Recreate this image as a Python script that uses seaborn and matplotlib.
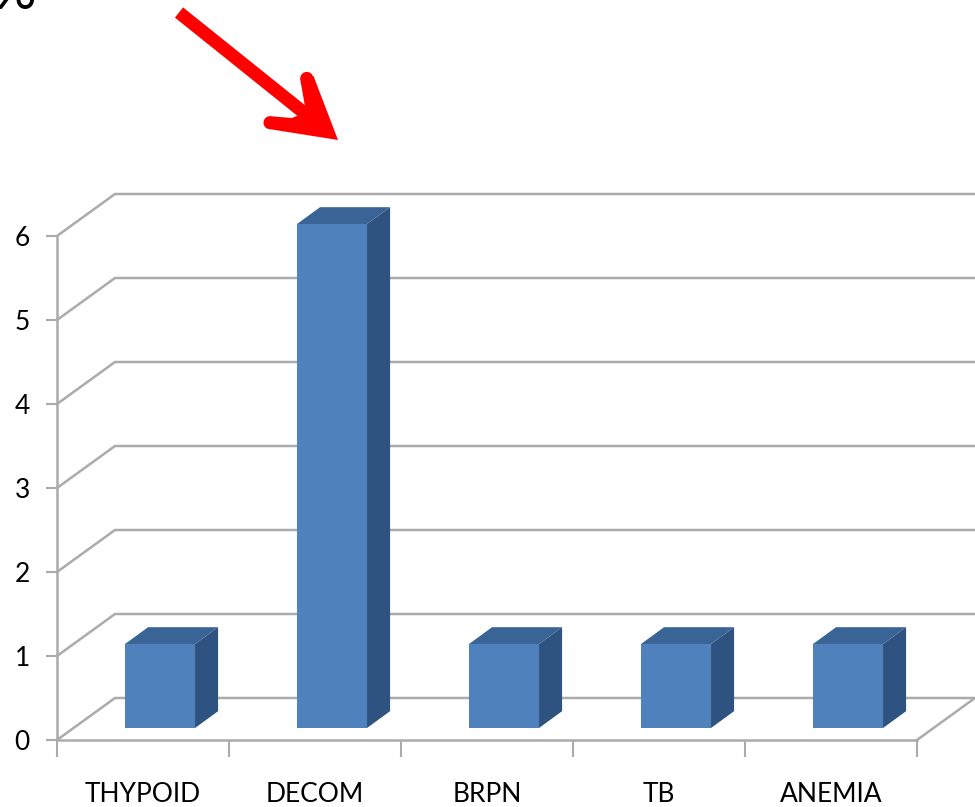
import numpy as np
import pandas as pd
import seaborn as sns
import matplotlib
matplotlib.use("Agg")
import matplotlib.pyplot as plt
import matplotlib.transforms as mtransforms
from matplotlib.patches import Polygon, Circle
from matplotlib.lines import Line2D

categories = ["THYPOID", "DECOM", "BRPN", "TB", "ANEMIA"]
values = [1, 6, 1, 1, 1]
y_ticks = [0, 1, 2, 3, 4, 5, 6]

W, H, DPI = 975, 807, 100
FRONT = "#4F81BD"
TOP = "#3B6496"
SIDE = "#2F5380"
GRID = "#ABABAB"

sns.set_theme(style="white")
plt.rcParams["font.family"] = ["Lato", "DejaVu Sans"]

fig = plt.figure(figsize=(W / DPI, H / DPI), dpi=DPI)
fig.patch.set_facecolor("white")
ax = fig.add_axes([57 / W, (H - 740) / H, 860 / W, 504 / H])
ax.set_facecolor("none")

# perspective depth (data units): whole floor, bar front offset, bar depth
WALL_DX, WALL_DY = 0.337, 0.50
BAR_OX, BAR_OY = 0.099, 0.143
BAR_DX, BAR_DY = 0.134, 0.20

df = pd.DataFrame({"cat": categories, "val": values})
sns.barplot(data=df, x="cat", y="val", color=FRONT, saturation=1,
            width=0.407, linewidth=0, ax=ax, zorder=6)
ax.set_xlim(-0.5, 4.5)
ax.set_ylim(0, 6)

# back wall gridlines with the side-wall diagonals
for v in y_ticks:
    ax.add_line(Line2D([-0.5, -0.5 + WALL_DX, 5.3], [v, v + WALL_DY, v + WALL_DY],
                       color=GRID, lw=1.8, clip_on=False, zorder=1))
# right edge of the floor
ax.add_line(Line2D([4.5, 4.5 + WALL_DX], [0, WALL_DY], color=GRID, lw=1.8,
                   clip_on=False, zorder=1))

# shift bars back into the floor and add top / side faces
shift = mtransforms.Affine2D().translate(BAR_OX, BAR_OY) + ax.transData
for p in list(ax.patches):
    p.set_transform(shift)
    p.set_clip_on(False)
    x0 = p.get_x() + BAR_OX
    x1 = x0 + p.get_width()
    y0 = p.get_y() + BAR_OY
    y1 = y0 + p.get_height()
    side = Polygon([(x1, y0), (x1 + BAR_DX, y0 + BAR_DY), (x1 + BAR_DX, y1 + BAR_DY), (x1, y1)],
                   closed=True, facecolor=SIDE, edgecolor="none", clip_on=False, zorder=5)
    top = Polygon([(x0, y1), (x0 + BAR_DX, y1 + BAR_DY), (x1 + BAR_DX, y1 + BAR_DY), (x1, y1)],
                  closed=True, facecolor=TOP, edgecolor="none", clip_on=False, zorder=5)
    ax.add_patch(side)
    ax.add_patch(top)

# front axes
for s in ["top", "right"]:
    ax.spines[s].set_visible(False)
for s in ["left", "bottom"]:
    ax.spines[s].set_color(GRID)
    ax.spines[s].set_linewidth(1.8)
    ax.spines[s].set_zorder(2)

ax.set_yticks(y_ticks)
ax.set_yticklabels([str(v) for v in y_ticks])
ax.tick_params(axis="y", left=True, length=8, width=1.5, color=GRID,
               pad=11.5, labelsize=19, labelcolor="black")
ax.set_xticks(range(len(categories)))
ax.set_xticklabels(categories)
ax.set_xticks(np.arange(-0.5, len(categories), 1.0), minor=True)
ax.tick_params(axis="x", which="major", bottom=True, length=0, pad=30,
               labelsize=19, labelcolor="black")
ax.tick_params(axis="x", which="minor", bottom=True, length=12, width=1.5, color=GRID)
ax.set_xlabel("")
ax.set_ylabel("")

# cropped heading at the top-left corner
fig.text(36 / W, 1 - 9 / H, "%", ha="right", va="baseline", fontsize=40, color="black")

# red pointer arrow, in pixel coordinates measured from the top-left
px = mtransforms.Affine2D().scale(1, -1).translate(0, H)
RED = "#FF0000"
fig.add_artist(Line2D([179, 318], [12.5, 124], color=RED, lw=9.4,
                      solid_capstyle="butt", transform=px))
fig.add_artist(Polygon([(338, 140), (313.5, 76), (300.5, 81), (306, 112),
                        (292, 118), (270, 116.2), (270, 129.2)],
                       closed=True, facecolor=RED, edgecolor="none", transform=px))
fig.add_artist(Circle((306.8, 78.5), 6.6, facecolor=RED, edgecolor="none", transform=px))
fig.add_artist(Circle((270, 122.7), 6.5, facecolor=RED, edgecolor="none", transform=px))

fig.savefig("out.png", dpi=DPI, facecolor="white")
